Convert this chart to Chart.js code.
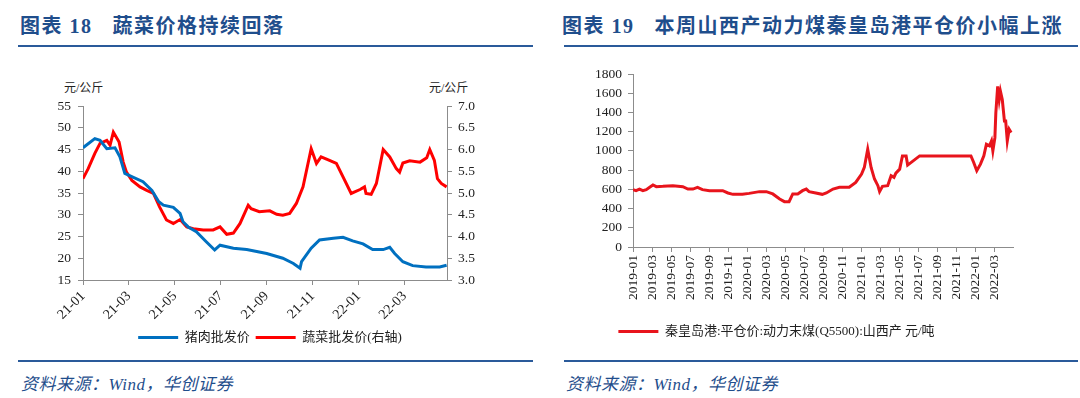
<!DOCTYPE html>
<html lang="zh">
<head>
<meta charset="UTF-8">
<title>图表 18 / 图表 19</title>
<script src="https://cdn.jsdelivr.net/npm/chart.js"></script>
<style>
    body { margin: 0; background: #fff; }
    #page { position: relative; width: 1080px; height: 398px; overflow: hidden;
            font-family: "Liberation Serif", "Noto Sans CJK SC", serif; }
    .title { position: absolute; top: 10px; font-size: 20px; font-weight: bold; color: #1f4e8c;
             white-space: nowrap; letter-spacing: 1.5px; }
    .title .gap { display: inline-block; width: 20px; }
    .rule { position: absolute; height: 2px; background: #2a5a9a; }
    .src { position: absolute; top: 370px; font-size: 17px; font-style: italic; color: #1f4e8c; letter-spacing: 0.5px; }
    .unit { position: absolute; top: 78px; font-size: 12px; color: #222; }
    canvas { position: absolute; }
</style>
</head>
<body>
<div id="page">
    <div class="title" style="left:20px">图表 18<span class="gap"></span>蔬菜价格持续回落</div>
    <div class="title" style="left:562px">图表 19<span class="gap"></span>本周山西产动力煤秦皇岛港平仓价小幅上涨</div>
    <div class="rule" style="left:18px;width:515px;top:45px"></div>
    <div class="rule" style="left:564px;width:514px;top:45px"></div>
    <div class="unit" style="left:64px">元/公斤</div>
    <div class="unit" style="left:429px">元/公斤</div>
    <div class="rule" style="left:18px;width:515px;top:360px"></div>
    <div class="rule" style="left:564px;width:514px;top:360px"></div>
    <div class="src" style="left:21px">资料来源：Wind，华创证券</div>
    <div class="src" style="left:566px">资料来源：Wind，华创证券</div>

    <canvas id="vegChart" width="540" height="306" style="left:0;top:50px"></canvas>
    <canvas id="coalChart" width="540" height="300" style="left:540px;top:50px"></canvas>
</div>

<script>
    // 图表18: 猪肉批发价 (左轴, 元/公斤)
    const porkDates = ['2021-01-01','2021-01-17','2021-01-24','2021-02-02','2021-02-12','2021-02-18','2021-02-24',
        '2021-03-07','2021-03-20','2021-04-01','2021-04-10','2021-04-16','2021-04-29','2021-05-08','2021-05-12',
        '2021-05-19','2021-05-30','2021-06-12','2021-06-23','2021-06-30','2021-07-18','2021-08-05','2021-09-01',
        '2021-09-22','2021-10-06','2021-10-15','2021-10-17','2021-10-30','2021-11-10','2021-11-28','2021-12-11',
        '2021-12-24','2022-01-07','2022-01-20','2022-02-03','2022-02-11','2022-02-17','2022-02-27','2022-03-12',
        '2022-03-30','2022-04-17','2022-04-26'];
    const porkPrice = [45.4, 47.5, 47.1, 45.2, 45.4, 43.3, 39.5,
        38.6, 37.6, 35.6, 33.0, 32.2, 31.7, 30.3, 28.4,
        27.2, 26.1, 23.8, 21.9, 23.0, 22.3, 22.0, 21.1,
        20.0, 18.8, 17.7, 19.2, 22.3, 24.2, 24.6, 24.8,
        24.0, 23.3, 22.0, 22.0, 22.5, 21.1, 19.2, 18.3,
        18.0, 18.0, 18.4];

    // 蔬菜批发价 (右轴, 元/公斤)
    const vegDates = ['2021-01-01','2021-01-08','2021-01-17','2021-01-24','2021-02-02','2021-02-06','2021-02-10',
        '2021-02-17','2021-02-22','2021-02-26','2021-03-05','2021-03-16','2021-03-25','2021-04-03','2021-04-11',
        '2021-04-20','2021-04-29','2021-05-08','2021-05-17','2021-05-26','2021-06-08','2021-06-21','2021-06-30',
        '2021-07-09','2021-07-18','2021-07-27','2021-08-07','2021-08-11','2021-08-22','2021-09-05','2021-09-14',
        '2021-09-22','2021-10-01','2021-10-10','2021-10-19','2021-10-30','2021-11-06','2021-11-12','2021-11-23',
        '2021-12-02','2021-12-11','2021-12-22','2022-01-03','2022-01-09','2022-01-11','2022-01-18','2022-01-25',
        '2022-02-03','2022-02-11','2022-02-19','2022-02-23','2022-02-27','2022-03-08','2022-03-22','2022-03-31',
        '2022-04-04','2022-04-10','2022-04-14','2022-04-19','2022-04-26'];
    const vegPrice = [5.33, 5.56, 5.91, 6.14, 6.21, 6.10, 6.40,
        6.17, 5.71, 5.48, 5.29, 5.14, 5.06, 4.99, 4.68,
        4.38, 4.30, 4.39, 4.22, 4.18, 4.15, 4.15, 4.22,
        4.05, 4.08, 4.30, 4.72, 4.64, 4.57, 4.59, 4.51,
        4.49, 4.53, 4.76, 5.14, 6.02, 5.68, 5.83, 5.75,
        5.68, 5.37, 4.99, 5.08, 5.14, 4.99, 4.97, 5.22,
        6.00, 5.83, 5.56, 5.48, 5.69, 5.74, 5.71, 5.81,
        6.00, 5.75, 5.33, 5.22, 5.14];

    // 图表19: 秦皇岛港平仓价 动力末煤(Q5500) 山西产 (元/吨)
    const coalDates = ['2019-01-01','2019-01-11','2019-01-22','2019-02-02','2019-02-12','2019-02-22','2019-03-04',
        '2019-03-15','2019-04-05','2019-05-07','2019-06-08','2019-06-24','2019-07-10','2019-07-25','2019-08-10',
        '2019-09-02','2019-10-14','2019-10-31','2019-11-16','2019-12-16','2020-01-07','2020-02-09','2020-03-01',
        '2020-03-22','2020-04-13','2020-04-28','2020-05-13','2020-05-25','2020-06-10','2020-06-25','2020-07-07',
        '2020-07-16','2020-08-07','2020-08-28','2020-09-10','2020-10-01','2020-10-22','2020-11-22','2020-12-13',
        '2021-01-01','2021-01-10','2021-01-21','2021-02-01','2021-02-11','2021-02-21','2021-02-26','2021-03-07',
        '2021-03-24','2021-04-04','2021-04-13','2021-04-19','2021-05-01','2021-05-10','2021-05-22','2021-05-27',
        '2021-07-04','2021-12-16','2021-12-25','2022-01-04','2022-01-16','2022-01-27','2022-02-04','2022-02-13',
        '2022-02-19','2022-02-23','2022-03-01','2022-03-04','2022-03-10','2022-03-15','2022-03-19','2022-03-25',
        '2022-04-01','2022-04-05','2022-04-10','2022-04-16','2022-04-22'];
    const coalPrice = [597, 586, 603, 586, 597, 621, 645,
        628, 631, 638, 628, 603, 603, 621, 597,
        586, 586, 562, 548, 548, 558, 576, 576,
        552, 500, 472, 472, 552, 552, 586, 603,
        576, 562, 548, 562, 603, 621, 621, 672,
        759, 828, 1017, 828, 707, 638, 576, 631,
        638, 741, 724, 769, 810, 948, 948, 852,
        948, 948, 879, 793, 862, 948, 1069, 1052,
        1103, 1000, 1138, 1396, 1672, 1534, 1620, 1534,
        1310, 1310, 1103, 1224, 1190];

    const leftTicks = [15, 20, 25, 30, 35, 40, 45, 50, 55];
    const rightTicks = [3.0, 3.5, 4.0, 4.5, 5.0, 5.5, 6.0, 6.5, 7.0];
    const coalTicks = [0, 200, 400, 600, 800, 1000, 1200, 1400, 1600, 1800];

    // months elapsed since January of baseYear (fractional by day)
    function monthsFrom(baseYear, d) {
        const [y, m, day] = d.split('-').map(Number);
        const dim = new Date(y, m, 0).getDate();
        return (y - baseYear) * 12 + (m - 1) + (day - 1) / dim;
    }
    function points(dates, vals, baseYear) {
        return dates.map((d, i) => ({ x: monthsFrom(baseYear, d), y: vals[i] }));
    }
    function pad2(n) { return (n < 10 ? '0' : '') + n; }

    const FONT = '"Liberation Serif", "Noto Sans CJK SC", serif';
    const AXIS = '#8c8c8c';
    Chart.defaults.font.family = FONT;
    Chart.defaults.color = '#222';
    Chart.defaults.animation = false;

    function legendLabels(chart) {
        const items = Chart.defaults.plugins.legend.labels.generateLabels(chart);
        items.forEach(it => { it.fillStyle = it.strokeStyle; it.lineWidth = 0; });
        return items;
    }
    function evenMonths(scale) {
        scale.ticks = scale.ticks.filter(t => Math.abs(t.value - Math.round(t.value)) < 1e-6 && Math.round(t.value) % 2 === 0);
    }
    function fixedTicks(list) {
        return scale => { scale.ticks = list.map(v => ({ value: v })); };
    }
    const tickGrid = { drawOnChartArea: false, drawTicks: true, tickLength: 5, color: AXIS };
    const border = { display: true, color: AXIS, width: 1 };

    new Chart(document.getElementById('vegChart'), {
        type: 'line',
        data: {
            datasets: [{
                label: '猪肉批发价',
                data: points(porkDates, porkPrice, 2021),
                borderColor: '#0070c0',
                backgroundColor: '#0070c0',
                borderWidth: 3,
                pointRadius: 0,
                tension: 0,
                yAxisID: 'y'
            }, {
                label: '蔬菜批发价(右轴)',
                data: points(vegDates, vegPrice, 2021),
                borderColor: '#ff0000',
                backgroundColor: '#ff0000',
                borderWidth: 3,
                pointRadius: 0,
                tension: 0,
                yAxisID: 'y1'
            }]
        },
        options: {
            responsive: false,
            layout: { padding: { top: 56, left: 0, right: 0, bottom: 2 } },
            plugins: {
                tooltip: { enabled: false },
                legend: {
                    position: 'bottom',
                    labels: { boxWidth: 40, boxHeight: 3, padding: 6, font: { size: 13 }, generateLabels: legendLabels }
                }
            },
            scales: {
                x: {
                    type: 'linear',
                    min: 0,
                    max: 15.85,
                    afterBuildTicks: evenMonths,
                    afterFit: s => { s.height = 45; },
                    grid: tickGrid,
                    border: border,
                    ticks: {
                        stepSize: 2,
                        autoSkip: false,
                        minRotation: 45,
                        maxRotation: 45,
                        font: { size: 14 },
                        callback: v => (21 + Math.floor(v / 12)) + '-' + pad2(v % 12 + 1)
                    }
                },
                y: {
                    position: 'left',
                    min: 15,
                    max: 55,
                    afterBuildTicks: fixedTicks(leftTicks),
                    afterFit: s => { s.width = 83; },
                    grid: tickGrid,
                    border: border,
                    ticks: { font: { size: 13.5 }, padding: 7 }
                },
                y1: {
                    position: 'right',
                    min: 3,
                    max: 7,
                    afterBuildTicks: fixedTicks(rightTicks),
                    afterFit: s => { s.width = 93; },
                    grid: tickGrid,
                    border: border,
                    ticks: { font: { size: 13.5 }, padding: 6, callback: v => v.toFixed(1) }
                }
            }
        }
    });

    new Chart(document.getElementById('coalChart'), {
        type: 'line',
        data: {
            datasets: [{
                label: '秦皇岛港:平仓价:动力末煤(Q5500):山西产 元/吨',
                data: points(coalDates, coalPrice, 2019),
                borderColor: '#e8141c',
                backgroundColor: '#e8141c',
                borderWidth: 3,
                pointRadius: 0,
                tension: 0
            }]
        },
        options: {
            responsive: false,
            layout: { padding: { top: 24, left: 0, right: 67, bottom: 2 } },
            plugins: {
                tooltip: { enabled: false },
                legend: {
                    position: 'bottom',
                    labels: { boxWidth: 40, boxHeight: 3, padding: 6, font: { size: 13 }, generateLabels: legendLabels }
                }
            },
            scales: {
                x: {
                    type: 'linear',
                    min: 0,
                    max: 39.9,
                    afterBuildTicks: evenMonths,
                    afterFit: s => { s.height = 72; },
                    grid: tickGrid,
                    border: border,
                    ticks: {
                        stepSize: 2,
                        autoSkip: false,
                        minRotation: 90,
                        maxRotation: 90,
                        font: { size: 13.5 },
                        callback: v => (2019 + Math.floor(v / 12)) + '-' + pad2(v % 12 + 1)
                    }
                },
                y: {
                    min: 0,
                    max: 1800,
                    afterBuildTicks: fixedTicks(coalTicks),
                    afterFit: s => { s.width = 93; },
                    grid: tickGrid,
                    border: border,
                    ticks: { font: { size: 13.5 }, padding: 6, callback: v => String(v) }
                }
            }
        }
    });
</script>
</body>
</html>
